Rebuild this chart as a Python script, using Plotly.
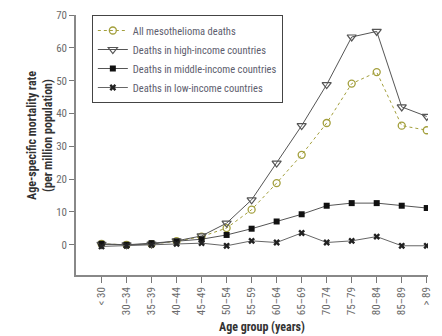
import plotly.graph_objects as go

age_groups = ["< 30", "30–34", "35–39", "40–44", "45–49", "50–54", "55–59",
              "60–64", "65–69", "70–74", "75–79", "80–84", "85–89", "> 89"]

all_deaths = [0.3, 0.0, 0.2, 1.1, 2.5, 5.1, 10.7, 18.8, 27.4, 37.1, 49.1, 52.6, 36.3, 34.9]
high_income = [0.1, 0.0, 0.2, 1.2, 2.7, 6.6, 13.7, 24.9, 36.3, 48.8, 63.3, 65.0, 42.0, 39.1]
middle_income = [0.3, 0.0, 0.5, 1.0, 1.7, 3.0, 4.9, 7.1, 9.3, 11.9, 12.7, 12.7, 11.9, 11.2]
low_income = [-0.5, -0.3, 0.0, 0.3, 0.5, -0.3, 1.2, 0.7, 3.6, 0.7, 1.2, 2.5, -0.3, -0.3]

y_ticks = [0, 10, 20, 30, 40, 50, 60, 70]

FONT = "Liberation Sans Narrow, Arial Narrow, Roboto Condensed, Liberation Sans, sans-serif"
GREY_TEXT = "#6b6b6b"
TITLE_FONT = dict(family=FONT, size=12, color="#333333")
x_idx = list(range(len(age_groups)))

fig = go.Figure()
fig.add_trace(go.Scatter(
    x=x_idx, y=all_deaths, name="All mesothelioma deaths", mode="lines+markers",
    line=dict(color="#a39f3c", width=1, dash="dot"),
    marker=dict(symbol="circle-open", size=7, color="#a39f3c", line=dict(width=1.3)),
))
fig.add_trace(go.Scatter(
    x=x_idx, y=high_income, name="Deaths in high-income countries", mode="lines+markers",
    line=dict(color="#555555", width=1),
    marker=dict(symbol="triangle-down-open", size=8, color="#555555", line=dict(width=1.2)),
))
fig.add_trace(go.Scatter(
    x=x_idx, y=middle_income, name="Deaths in middle-income countries", mode="lines+markers",
    line=dict(color="#555555", width=1),
    marker=dict(symbol="square", size=6, color="#111111"),
))
fig.add_trace(go.Scatter(
    x=x_idx, y=low_income, name="Deaths in low-income countries", mode="lines+markers",
    line=dict(color="#666666", width=1),
    marker=dict(symbol="x", size=6, color="#222222", line=dict(width=0)),
))

fig.update_layout(
    width=442, height=336,
    margin=dict(l=76, r=14, t=15, b=61),
    paper_bgcolor="white", plot_bgcolor="white",
    font=dict(family=FONT, size=11, color=GREY_TEXT),
    showlegend=True,
    legend=dict(
        x=0.045, y=1.0, xanchor="left", yanchor="top",
        bordercolor="#444444", borderwidth=1, bgcolor="white",
        font=dict(family=FONT, size=10.5, color="#5e5e6e"),
        itemwidth=30, tracegroupgap=0,
    ),
    xaxis=dict(
        range=[-1.02, 13.05], tickmode="array", tickvals=x_idx, ticktext=age_groups,
        tickangle=-90, ticks="outside", ticklen=6, tickcolor="#777777", tickwidth=1,
        showline=True, linecolor="#888888", linewidth=1.5,
        showgrid=False, zeroline=False, automargin=False,
        tickfont=dict(family=FONT, size=11, color=GREY_TEXT),
    ),
    yaxis=dict(
        range=[-9.2, 70], tickmode="array", tickvals=y_ticks,
        ticks="outside", ticklen=5, tickcolor="#777777", tickwidth=1,
        showline=True, linecolor="#888888", linewidth=1.5,
        showgrid=False, zeroline=False, automargin=False,
        tickfont=dict(family=FONT, size=11, color=GREY_TEXT),
    ),
    annotations=[
        # axis titles placed as free text
        dict(text="<b>Age group (years)</b>", xref="paper", yref="paper",
             x=0.528, y=-0.165, xanchor="center", yanchor="top",
             showarrow=False, font=TITLE_FONT),
        dict(text="<b>Age-specific mortality rate<br>(per million population)</b>",
             xref="paper", yref="paper", x=-0.102, y=0.535,
             xanchor="center", yanchor="middle", textangle=-90,
             showarrow=False, font=TITLE_FONT),
    ],
)

fig.write_html("out.html")
